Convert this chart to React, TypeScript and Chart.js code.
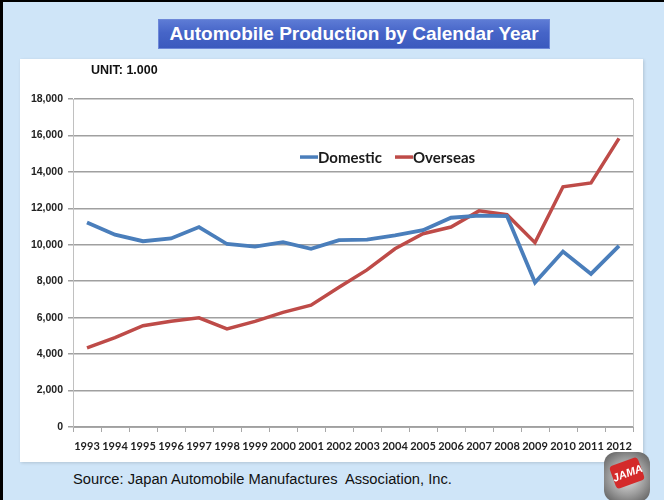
import React, { useEffect, useRef } from 'react';
import { Chart, registerables } from 'chart.js';

Chart.register(...registerables);

const years = ['1993', '1994', '1995', '1996', '1997', '1998', '1999', '2000', '2001', '2002', '2003', '2004', '2005', '2006', '2007', '2008', '2009', '2010', '2011', '2012'];
const domestic = [11228, 10554, 10196, 10346, 10975, 10042, 9895, 10141, 9777, 10257, 10286, 10512, 10800, 11484, 11596, 11576, 7934, 9629, 8399, 9943];
const overseas = [4341, 4900, 5559, 5800, 5990, 5380, 5795, 6288, 6685, 7670, 8620, 9781, 10606, 10972, 11860, 11651, 10118, 13182, 13396, 15838];
const seriesNames = ['Domestic', 'Overseas'];
const yMin = 0;
const yMax = 18000;
const yStep = 2000;

const inLegend = {
  id: 'inLegend',
  afterDraw(chart: any) {
    const { ctx, chartArea } = chart;
    const h = chartArea.bottom - chartArea.top;
    const y = chartArea.top + h * 0.177;
    let x = chartArea.left + 227;
    ctx.save();
    ctx.font = 'bold 15px Lato, "Open Sans", sans-serif';
    ctx.textBaseline = 'middle';
    chart.data.datasets.forEach((ds: any) => {
      ctx.strokeStyle = ds.borderColor;
      ctx.lineWidth = 3.5;
      ctx.beginPath();
      ctx.moveTo(x, y);
      ctx.lineTo(x + 18, y);
      ctx.stroke();
      ctx.fillStyle = '#1a1a1a';
      ctx.fillText(ds.label, x + 18, y + 1);
      x += 18 + ctx.measureText(ds.label).width + 13;
    });
    ctx.restore();
  },
};

const rightBorder = {
  id: 'rightBorder',
  beforeDatasetsDraw(chart: any) {
    const { ctx, chartArea } = chart;
    ctx.save();
    ctx.strokeStyle = '#c8c8c8';
    ctx.lineWidth = 1;
    ctx.beginPath();
    ctx.moveTo(chartArea.right + 0.5, chartArea.top);
    ctx.lineTo(chartArea.right + 0.5, chartArea.bottom);
    ctx.stroke();
    ctx.restore();
  },
};

function LineChart() {
  const ref = useRef<HTMLCanvasElement | null>(null);
  useEffect(() => {
    if (!ref.current) return;
    const chart = new Chart(ref.current, {
      type: 'line',
      data: {
        labels: years,
        datasets: [
          {
            label: seriesNames[0],
            data: domestic,
            borderColor: '#4a7ebb',
            backgroundColor: '#4a7ebb',
            borderWidth: 3.8,
            pointRadius: 0,
            tension: 0,
          },
          {
            label: seriesNames[1],
            data: overseas,
            borderColor: '#be4b48',
            backgroundColor: '#be4b48',
            borderWidth: 3.5,
            pointRadius: 0,
            tension: 0,
          },
        ],
      },
      options: {
        responsive: false,
        animation: false,
        layout: { padding: { top: 40, right: 10, left: 0, bottom: 0 } },
        plugins: {
          legend: { display: false },
          tooltip: { enabled: false },
          title: { display: false },
        },
        scales: {
          x: {
            offset: true,
            afterFit: (s: any) => { s.height = 35; },
            grid: { offset: true, drawOnChartArea: false, tickLength: 5, color: '#a8a8a8' },
            border: { color: '#a8a8a8' },
            ticks: {
              autoSkip: false,
              maxRotation: 0,
              padding: 8,
              color: '#222',
              font: { family: 'Lato, "Open Sans", sans-serif', weight: 'bold', size: 11 },
            },
          },
          y: {
            min: yMin,
            max: yMax,
            afterFit: (s: any) => { s.width = 53; },
            grid: { color: '#a0a0a0', lineWidth: 1.5, tickLength: 5 },
            border: { color: '#c0c0c0', width: 1 },
            ticks: {
              stepSize: yStep,
              padding: 5,
              color: '#222',
              font: { family: 'Arial, "Liberation Sans", sans-serif', weight: 'bold', size: 10.5 },
              callback: (v: any) => Number(v).toLocaleString('en-US'),
            },
          },
        },
      },
      plugins: [inLegend, rightBorder],
    });
    return () => chart.destroy();
  }, []);
  return <canvas ref={ref} width={623} height={403} style={{ position: 'absolute', left: 0, top: 0, width: 623, height: 403 }} />;
}

export default function App() {
  useEffect(() => {
    document.body.style.margin = '0';
  }, []);
  return (
    <div
      style={{
        position: 'relative',
        width: 664,
        height: 500,
        overflow: 'hidden',
        background: '#cfe5f8',
        boxSizing: 'border-box',
        fontFamily: 'Arial, "Liberation Sans", sans-serif',
      }}
    >
      <div style={{ position: 'absolute', left: 0, top: 0, width: 3, height: 500, background: '#000' }} />
      <div style={{ position: 'absolute', left: 0, top: 0, width: 664, height: 2, background: '#000' }} />
      <div
        style={{
          position: 'absolute',
          left: 158,
          top: 19,
          width: 392,
          height: 30,
          background: 'linear-gradient(#5f7dd6 0%, #4665c8 45%, #3a59bd 100%)',
          boxShadow: 'inset 0 0 0 1px #6d88d8',
          color: '#fff',
          fontWeight: 'bold',
          fontSize: 19,
          lineHeight: '30px',
          textAlign: 'center',
          whiteSpace: 'nowrap',
        }}
      >
        Automobile Production by Calendar Year
      </div>
      <div
        style={{
          position: 'absolute',
          left: 20,
          top: 59,
          width: 623,
          height: 403,
          background: '#fff',
          boxShadow: '1px 1px 3px rgba(0,0,0,0.15)',
        }}
      >
        <LineChart />
        <div style={{ position: 'absolute', left: 71, top: 4, fontSize: 12.5, fontWeight: 'bold', color: '#111' }}>UNIT: 1.000</div>
      </div>
      <div
        style={{
          position: 'absolute',
          left: 73,
          top: 471,
          fontSize: 14.7,
          color: '#111',
          whiteSpace: 'pre',
        }}
      >
        {'Source: Japan Automobile Manufactures  Association, Inc.'}
      </div>
      <div
        style={{
          position: 'absolute',
          left: 604,
          top: 452,
          width: 46,
          height: 50,
          borderRadius: 12,
          background: 'radial-gradient(circle, #e8e8e8 0%, #9a9a9a 55%, #555 100%)',
        }}
      >
        <div
          style={{
            position: 'absolute',
            left: 8,
            top: 9,
            width: 30,
            height: 24,
            borderRadius: 4,
            background: '#d42a2a',
            color: '#fff',
            fontWeight: 'bold',
            fontStyle: 'italic',
            fontSize: 11,
            lineHeight: '24px',
            textAlign: 'center',
            transform: 'rotate(-20deg)',
          }}
        >
          JAMA
        </div>
      </div>
    </div>
  );
}
